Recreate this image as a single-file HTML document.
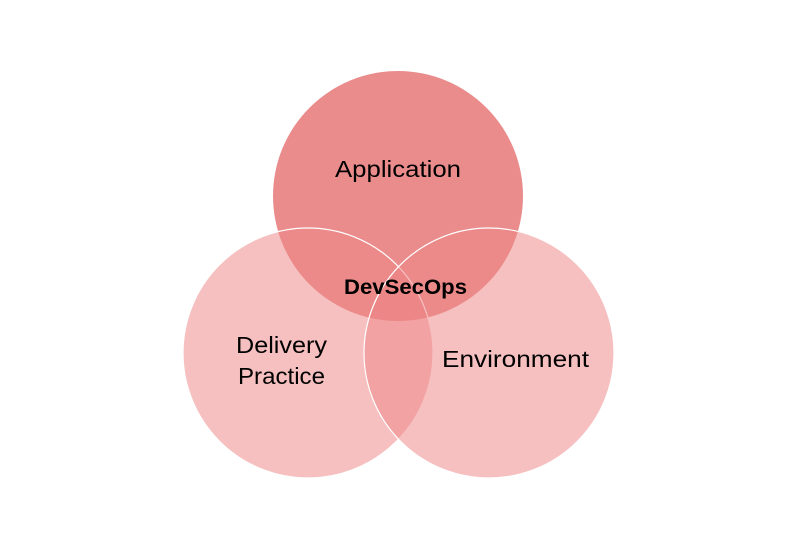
<!DOCTYPE html>
<html><head><style>
html,body{margin:0;padding:0;background:#fff;}
svg{display:block;}
text{font-family:"Liberation Sans",sans-serif;fill:#000;}
</style></head><body>
<svg width="800" height="551" viewBox="0 0 800 551">
<circle cx="398" cy="196" r="125" fill="#EA8C8C"/>
<circle cx="308" cy="353" r="125" fill="#EE8787" fill-opacity="0.52" stroke="#fff" stroke-width="1.2"/>
<circle cx="489" cy="353" r="125" fill="#EE8787" fill-opacity="0.52" stroke="#fff" stroke-width="1.2"/>
<text x="335" y="177" font-size="23" textLength="126" lengthAdjust="spacingAndGlyphs">Application</text>
<text x="344" y="294" font-size="21" font-weight="bold" textLength="123" lengthAdjust="spacingAndGlyphs">DevSecOps</text>
<text x="236" y="353" font-size="23" textLength="91" lengthAdjust="spacingAndGlyphs">Delivery</text>
<text x="238" y="384" font-size="23" textLength="87" lengthAdjust="spacingAndGlyphs">Practice</text>
<text x="442" y="367" font-size="23" textLength="147" lengthAdjust="spacingAndGlyphs">Environment</text>
</svg>
</body></html>
